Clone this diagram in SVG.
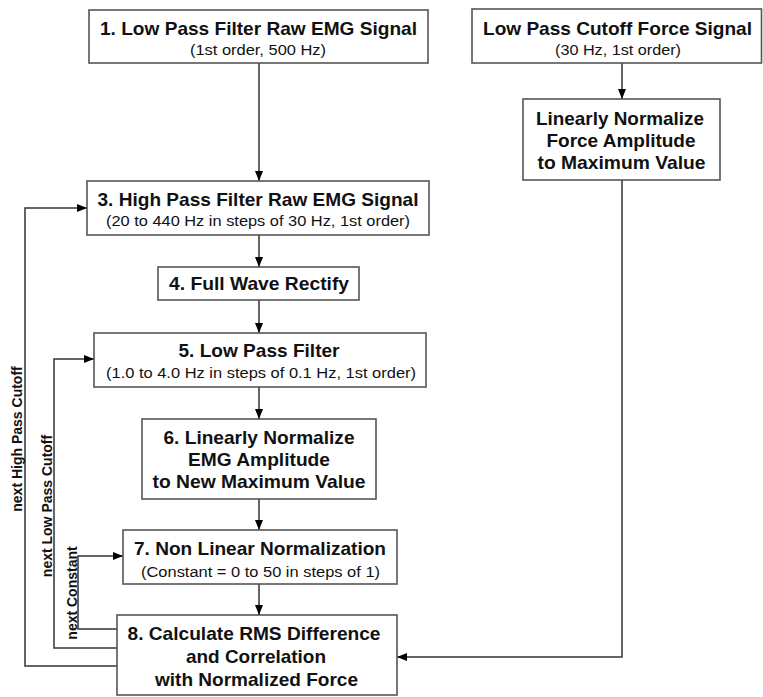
<svg xmlns="http://www.w3.org/2000/svg" width="763" height="697" viewBox="0 0 763 697">
<defs>
<marker id="ah" viewBox="0 0 10 8" refX="10" refY="4" markerWidth="10" markerHeight="8" markerUnits="userSpaceOnUse" orient="auto">
<path d="M0,0 L10,4 L0,8 z" fill="#000"/>
</marker>
<style>
.box{fill:#fff;stroke:#555;stroke-width:1.6}
.t{font-family:"Liberation Sans",Arial,sans-serif;font-weight:bold;font-size:18.5px;fill:#111;text-anchor:middle}
.s{font-family:"Liberation Sans",Arial,sans-serif;font-size:15.5px;fill:#111;text-anchor:middle}
.l{font-family:"Liberation Sans",Arial,sans-serif;font-weight:bold;font-size:14px;fill:#111;text-anchor:middle}
.c{fill:none;stroke:#333;stroke-width:1.5}
</style>
</defs>
<rect width="763" height="697" fill="#fff"/>
<g id="connectors">
<path class="c" d="M259,63 V181" marker-end="url(#ah)"/>
<path class="c" d="M259,235 V267" marker-end="url(#ah)"/>
<path class="c" d="M259,300 V333" marker-end="url(#ah)"/>
<path class="c" d="M259,387 V419" marker-end="url(#ah)"/>
<path class="c" d="M259,499 V530" marker-end="url(#ah)"/>
<path class="c" d="M259,584 V615" marker-end="url(#ah)"/>
<path class="c" d="M622,63 V99" marker-end="url(#ah)"/>
<path class="c" d="M622,180 V657 H397" marker-end="url(#ah)"/>
<path class="c" d="M117,629 H78 V556 H123" marker-end="url(#ah)"/>
<path class="c" d="M117,648 H54 V359 H94" marker-end="url(#ah)"/>
<path class="c" d="M117,666 H25 V208 H87" marker-end="url(#ah)"/>
<text class="l" transform="translate(22,439) rotate(-90)">next High Pass Cutoff</text>
<text class="l" transform="translate(52,506) rotate(-90)">next Low Pass Cutoff</text>
<text class="l" transform="translate(76.5,593) rotate(-90)">next Constant</text>
</g>
<g id="n1">
<rect class="box" x="89" y="10" width="339" height="53"/>
<text class="t" x="258.5" y="35" textLength="317" lengthAdjust="spacingAndGlyphs">1. Low Pass Filter Raw EMG Signal</text>
<text class="s" x="258" y="55" textLength="136" lengthAdjust="spacingAndGlyphs">(1st order, 500 Hz)</text>
</g>
<g id="nf1">
<rect class="box" x="472" y="9" width="289.5" height="54"/>
<text class="t" x="617.5" y="35" textLength="269" lengthAdjust="spacingAndGlyphs">Low Pass Cutoff Force Signal</text>
<text class="s" x="618" y="55" textLength="126" lengthAdjust="spacingAndGlyphs">(30 Hz, 1st order)</text>
</g>
<g id="nf2">
<rect class="box" x="523" y="99" width="197" height="81"/>
<text class="t" x="620" y="125" textLength="168" lengthAdjust="spacingAndGlyphs">Linearly Normalize</text>
<text class="t" x="621" y="147" textLength="149" lengthAdjust="spacingAndGlyphs">Force Amplitude</text>
<text class="t" x="621.5" y="169" textLength="168" lengthAdjust="spacingAndGlyphs">to Maximum Value</text>
</g>
<g id="n3">
<rect class="box" x="87" y="181" width="342" height="54"/>
<text class="t" x="258" y="206" textLength="321" lengthAdjust="spacingAndGlyphs">3. High Pass Filter Raw EMG Signal</text>
<text class="s" x="258" y="226" textLength="304" lengthAdjust="spacingAndGlyphs">(20 to 440 Hz in steps of 30 Hz, 1st order)</text>
</g>
<g id="n4">
<rect class="box" x="158" y="267" width="201" height="33"/>
<text class="t" x="259" y="290" textLength="180" lengthAdjust="spacingAndGlyphs">4. Full Wave Rectify</text>
</g>
<g id="n5">
<rect class="box" x="94" y="333" width="332" height="54"/>
<text class="t" x="259" y="357" textLength="161" lengthAdjust="spacingAndGlyphs">5. Low Pass Filter</text>
<text class="s" x="261" y="378" textLength="310" lengthAdjust="spacingAndGlyphs">(1.0 to 4.0 Hz in steps of 0.1 Hz, 1st order)</text>
</g>
<g id="n6">
<rect class="box" x="142" y="419" width="234" height="80"/>
<text class="t" x="259" y="444" textLength="191" lengthAdjust="spacingAndGlyphs">6. Linearly Normalize</text>
<text class="t" x="259" y="466" textLength="142" lengthAdjust="spacingAndGlyphs">EMG Amplitude</text>
<text class="t" x="259" y="488" textLength="213" lengthAdjust="spacingAndGlyphs">to New Maximum Value</text>
</g>
<g id="n7">
<rect class="box" x="123" y="530" width="274" height="54"/>
<text class="t" x="260" y="555" textLength="252" lengthAdjust="spacingAndGlyphs">7. Non Linear Normalization</text>
<text class="s" x="260.5" y="577" textLength="239" lengthAdjust="spacingAndGlyphs">(Constant = 0 to 50 in steps of 1)</text>
</g>
<g id="n8">
<rect class="box" x="117" y="615" width="280" height="80"/>
<text class="t" x="254" y="640" textLength="253" lengthAdjust="spacingAndGlyphs">8. Calculate RMS Difference</text>
<text class="t" x="256" y="663" textLength="140" lengthAdjust="spacingAndGlyphs">and Correlation</text>
<text class="t" x="256.5" y="686" textLength="203" lengthAdjust="spacingAndGlyphs">with Normalized Force</text>
</g>
</svg>
